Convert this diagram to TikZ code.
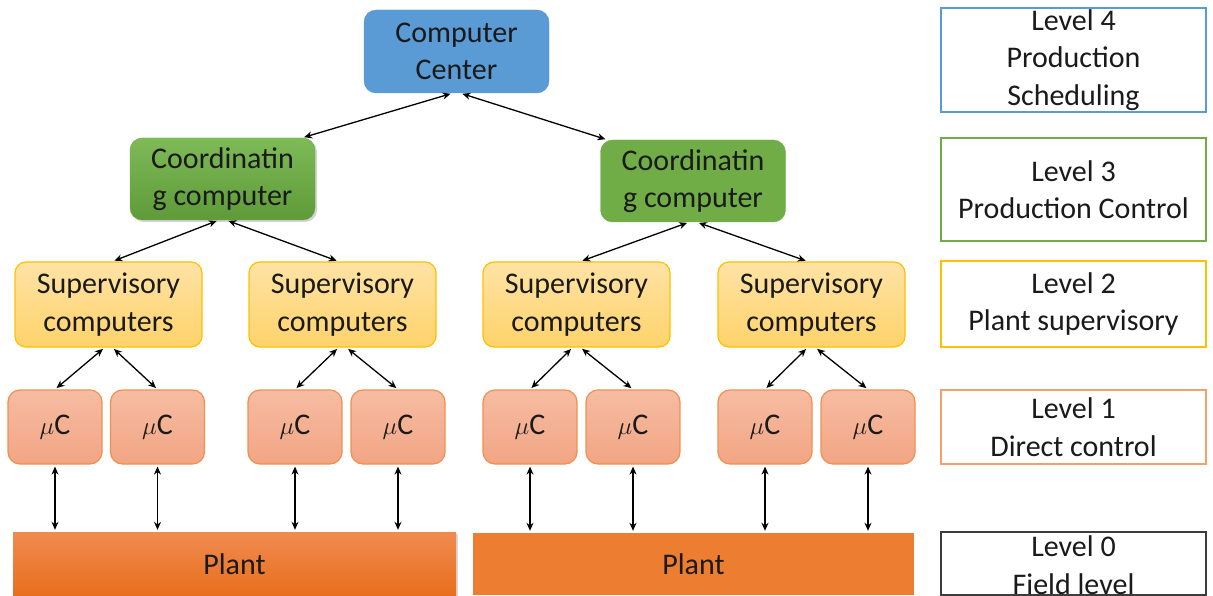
\documentclass[tikz,border=0pt]{standalone}
\usepackage{fontspec}
\setmainfont{Carlito}
\usetikzlibrary{arrows.meta,shadows,calc}
\definecolor{ccblue}{HTML}{5B9BD5}
\definecolor{grn}{HTML}{70AD47}
\definecolor{grntop}{HTML}{7EBA58}
\definecolor{grnbot}{HTML}{5E9A37}
\definecolor{supborder}{HTML}{FFC000}
\definecolor{suptop}{HTML}{FFE3A6}
\definecolor{supbot}{HTML}{FFD36A}
\definecolor{mcborder}{HTML}{F0904F}
\definecolor{mctop}{HTML}{F6BCA2}
\definecolor{mcbot}{HTML}{F2A584}
\definecolor{plant}{HTML}{ED7D31}
\definecolor{planttop}{HTML}{F08B50}
\definecolor{plantbot}{HTML}{E86E1C}
\definecolor{lvlorange}{HTML}{F4A06A}
\definecolor{txt}{HTML}{1A1A1A}
\tikzset{
  every node/.style={font=\fontsize{30}{37.5}\selectfont, text=txt, align=center},
  ccbox/.style={rounded corners=12pt, fill=ccblue, draw=ccblue, minimum width=185pt, minimum height=83pt, inner sep=0pt},
  cobox/.style={rounded corners=12pt, minimum width=185pt, minimum height=82pt, inner sep=0pt},
  supbox/.style={rounded corners=11pt, draw=supborder, line width=1.2pt, top color=suptop, bottom color=supbot, minimum width=187pt, minimum height=85pt, inner sep=0pt},
  mcbox/.style={rounded corners=12pt, draw=mcborder, line width=1.2pt, top color=mctop, bottom color=mcbot, minimum width=94pt, minimum height=74pt, inner sep=0pt},
  plantbox/.style={inner sep=0pt, minimum height=64pt},
  lvlbox/.style={draw, line width=1.3pt, fill=white, minimum width=265pt, inner sep=0pt},
  link/.style={<->, >={Stealth[length=8pt,width=7pt]}, line width=1.3pt, black, shorten <=2pt, shorten >=2pt},
}
\begin{document}
\begin{tikzpicture}[x=1pt,y=-1pt]
\useasboundingbox (0,0) rectangle (1213,596);
% level 4
\node[ccbox] (cc) at (456.5,51.5) {Computer\\Center};
% level 3
\node[cobox, top color=grntop, bottom color=grnbot, draw=grn, drop shadow={shadow xshift=2pt, shadow yshift=-2pt, opacity=0.35}] (co1) at (222.5,179) {\raisebox{-3pt}{\parbox{180pt}{\centering Coordinatin\\g computer}}};
\node[cobox, fill=grn, draw=grn] (co2) at (693,181) {\raisebox{-2pt}{\parbox{180pt}{\centering Coordinatin\\g computer}}};
% level 2
\node[supbox] (s1) at (108.5,304.5) {Supervisory\\computers};
\node[supbox] (s2) at (342.5,304.5) {Supervisory\\computers};
\node[supbox] (s3) at (576.5,304.5) {Supervisory\\computers};
\node[supbox] (s4) at (811.5,304.5) {Supervisory\\computers};
% level 1
\node[mcbox] (m1) at (55,427) {$\mu$C};
\node[mcbox] (m2) at (157.5,427) {$\mu$C};
\node[mcbox] (m3) at (295,427) {$\mu$C};
\node[mcbox] (m4) at (398,427) {$\mu$C};
\node[mcbox] (m5) at (530,427) {$\mu$C};
\node[mcbox] (m6) at (633,427) {$\mu$C};
\node[mcbox] (m7) at (765,427) {$\mu$C};
\node[mcbox] (m8) at (868,427) {$\mu$C};
% level 0
\node[plantbox, minimum width=443pt, top color=planttop, bottom color=plantbot, drop shadow={shadow xshift=2pt, shadow yshift=-2pt, opacity=0.3}] (p1) at (234.5,564) {Plant};
\node[plantbox, minimum width=441pt, minimum height=62pt, fill=plant] (p2) at (693.5,564) {Plant};
% level boxes
\node[lvlbox, draw=ccblue, minimum height=104pt] (l4) at (1073.5,60) {Level 4\\Production\\Scheduling};
\node[lvlbox, draw=grn, minimum height=103pt] (l3) at (1073.5,189.5) {Level 3\\Production Control};
\node[lvlbox, draw=supborder, minimum height=86pt] (l2) at (1073.5,304) {Level 2\\Plant supervisory};
\node[lvlbox, draw=lvlorange, minimum height=74pt] (l1) at (1073.5,427) {Level 1\\Direct control};
\node[lvlbox, draw=txt!85, minimum height=63pt] (l0) at (1073.5,563.5) {};
\node (l0t) at (1073.5,565) {Level 0\\Field level};
% connectors
\draw[link] ($(cc.south)+(-4,0)$) -- ($(co1.north east)+(-13,0)$);
\draw[link] ($(cc.south)+(4,0)$) -- ($(co2.north west)+(7,0)$);
\draw[link] ($(co1.south)+(-4,0)$) -- ($(s1.north)+(4,0)$);
\draw[link] ($(co1.south)+(4,0)$) -- ($(s2.north)+(-4,0)$);
\draw[link] ($(co2.south)+(-4,0)$) -- ($(s3.north)+(4,0)$);
\draw[link] ($(co2.south)+(4,0)$) -- ($(s4.north)+(-4,0)$);
\foreach \s/\a/\b in {s1/m1/m2, s2/m3/m4, s3/m5/m6, s4/m7/m8} {
  \draw[link] ($(\s.south)+(-4,0)$) -- (\a.north);
  \draw[link] ($(\s.south)+(4,0)$) -- (\b.north);
}
\foreach \m/\p in {m1/p1, m2/p1, m3/p1, m4/p1, m5/p2, m6/p2, m7/p2, m8/p2} {
  \draw[link] (\m.south) -- (\m.south |- \p.north);
}
\end{tikzpicture}
\end{document}
